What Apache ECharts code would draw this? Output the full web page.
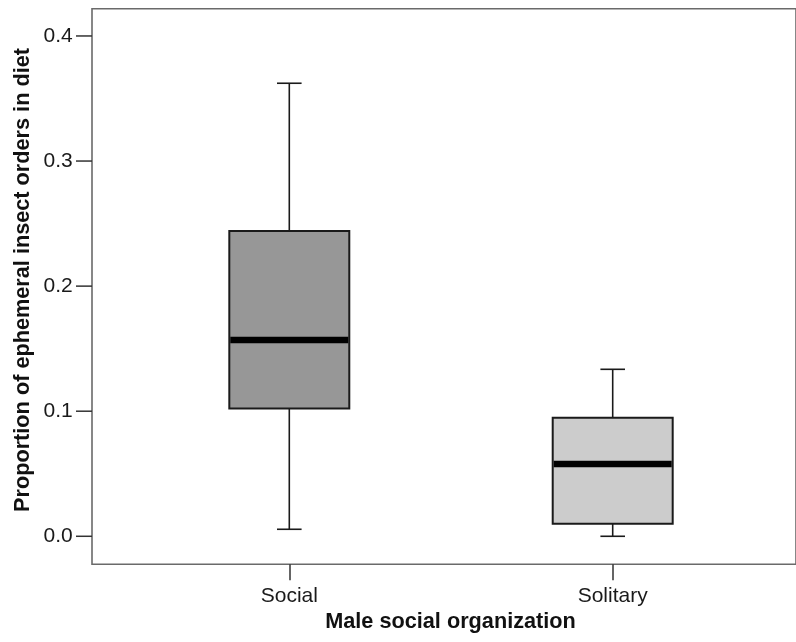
<!DOCTYPE html>
<html>
<head>
<meta charset="utf-8">
<script src="https://cdn.jsdelivr.net/npm/echarts@6/dist/echarts.min.js"></script>
<style>
  html, body { margin: 0; padding: 0; background: #ffffff; }
  #chart { width: 796px; height: 642px; }
</style>
</head>
<body>
<div id="chart"></div>
<script>
// Diet composition by male social organization (box-and-whisker summary)
const categories = ['Social', 'Solitary'];
const whiskerLow  = [0.0056, 0.0000];
const quartile1   = [0.1022, 0.0101];
const medians     = [0.1570, 0.0578];
const quartile3   = [0.2441, 0.0948];
const whiskerHigh = [0.3622, 0.1335];
const boxFills    = ['#979797', '#cccccc'];
const yTicks      = [0.0, 0.1, 0.2, 0.3, 0.4];

const yMin = -0.0224;
const yMax = 0.4218;
const FONT = '"Liberation Sans", Arial, Helvetica, sans-serif';

const boxData = categories.map((c, i) => [i, whiskerLow[i], quartile1[i], medians[i], quartile3[i], whiskerHigh[i]]);

function renderBox(params, api) {
  const idx = api.value(0);
  const band = api.size([1, 0])[0];
  const half = band * 0.1855;      // half box width
  const capHalf = band * 0.038;    // half whisker cap width
  const pLow = api.coord([idx, api.value(1)]);
  const pQ1 = api.coord([idx, api.value(2)]);
  const pMed = api.coord([idx, api.value(3)]);
  const pQ3 = api.coord([idx, api.value(4)]);
  const pHigh = api.coord([idx, api.value(5)]);
  const cx = pMed[0];
  const ink = '#1a1a1a';
  return {
    type: 'group',
    children: [
      { type: 'line', shape: { x1: cx, y1: pQ3[1], x2: cx, y2: pHigh[1] }, style: { stroke: ink, lineWidth: 1.6 } },
      { type: 'line', shape: { x1: cx, y1: pQ1[1], x2: cx, y2: pLow[1] }, style: { stroke: ink, lineWidth: 1.6 } },
      { type: 'line', shape: { x1: cx - capHalf, y1: pHigh[1], x2: cx + capHalf, y2: pHigh[1] }, style: { stroke: ink, lineWidth: 1.6 } },
      { type: 'line', shape: { x1: cx - capHalf, y1: pLow[1], x2: cx + capHalf, y2: pLow[1] }, style: { stroke: ink, lineWidth: 1.6 } },
      { type: 'rect', shape: { x: cx - half, y: pQ3[1], width: half * 2, height: pQ1[1] - pQ3[1] },
        style: { fill: boxFills[idx], stroke: ink, lineWidth: 2 } },
      { type: 'line', shape: { x1: cx - half + 1, y1: pMed[1], x2: cx + half - 1, y2: pMed[1] }, style: { stroke: '#000000', lineWidth: 6.5 } }
    ]
  };
}

const chart = echarts.init(document.getElementById('chart'), null, { renderer: 'canvas' });
chart.setOption({
  animation: false,
  backgroundColor: '#ffffff',
  grid: [
    { left: 92, top: 8.7, right: -6, bottom: 77.7, show: true, borderColor: '#6a6a6a', borderWidth: 1.6, backgroundColor: 'transparent' },
    { left: 127.6, top: 8.7, width: 646.8, bottom: 77.7 }
  ],
  xAxis: [
    { gridIndex: 0, type: 'value', min: 0, max: 1, show: false },
    {
      gridIndex: 1, type: 'category', data: categories, boundaryGap: true, position: 'bottom',
      axisLine: { show: false, onZero: false },
      axisTick: { show: true, alignWithLabel: true, length: 16, inside: false, lineStyle: { color: '#333333', width: 1.5 } },
      axisLabel: { color: '#1a1a1a', fontSize: 21, fontFamily: FONT, margin: 21 },
      splitLine: { show: false }
    }
  ],
  yAxis: [
    {
      gridIndex: 0, type: 'value', min: yMin, max: yMax,
      axisLine: { show: false },
      axisTick: { show: false },
      axisLabel: { show: false },
      splitLine: { show: false }
    },
    {
      gridIndex: 1, type: 'value', min: yMin, max: yMax, show: false, splitLine: { show: false }
    }
  ],
  series: [
    {
      // y-axis ticks and labels, drawn on the framed grid
      type: 'custom',
      xAxisIndex: 0, yAxisIndex: 0,
      data: yTicks.map(v => [0, v]),
      silent: true,
      renderItem: function (params, api) {
        const p = api.coord([0, api.value(1)]);
        return {
          type: 'group',
          children: [
            { type: 'line', shape: { x1: p[0] - 16, y1: p[1], x2: p[0], y2: p[1] }, style: { stroke: '#333333', lineWidth: 1.5 } },
            { type: 'text', x: p[0] - 19.3, y: p[1],
              style: { text: api.value(1).toFixed(1), fill: '#1a1a1a', font: '21px ' + FONT, align: 'right', verticalAlign: 'middle' } }
          ]
        };
      }
    },
    {
      type: 'custom',
      xAxisIndex: 1, yAxisIndex: 1,
      data: boxData,
      silent: true,
      renderItem: renderBox
    }
  ],
  graphic: [
    { type: 'text', x: 450.5, y: 622, style: { text: 'Male social organization', fill: '#111111', font: 'bold 21.7px ' + FONT, align: 'center', verticalAlign: 'middle' } },
    { type: 'text', x: 23, y: 280, rotation: Math.PI / 2,
      style: { text: 'Proportion of ephemeral insect orders in diet', fill: '#111111', font: 'bold 21.7px ' + FONT, align: 'center', verticalAlign: 'middle' } }
  ]
});
</script>
</body>
</html>
